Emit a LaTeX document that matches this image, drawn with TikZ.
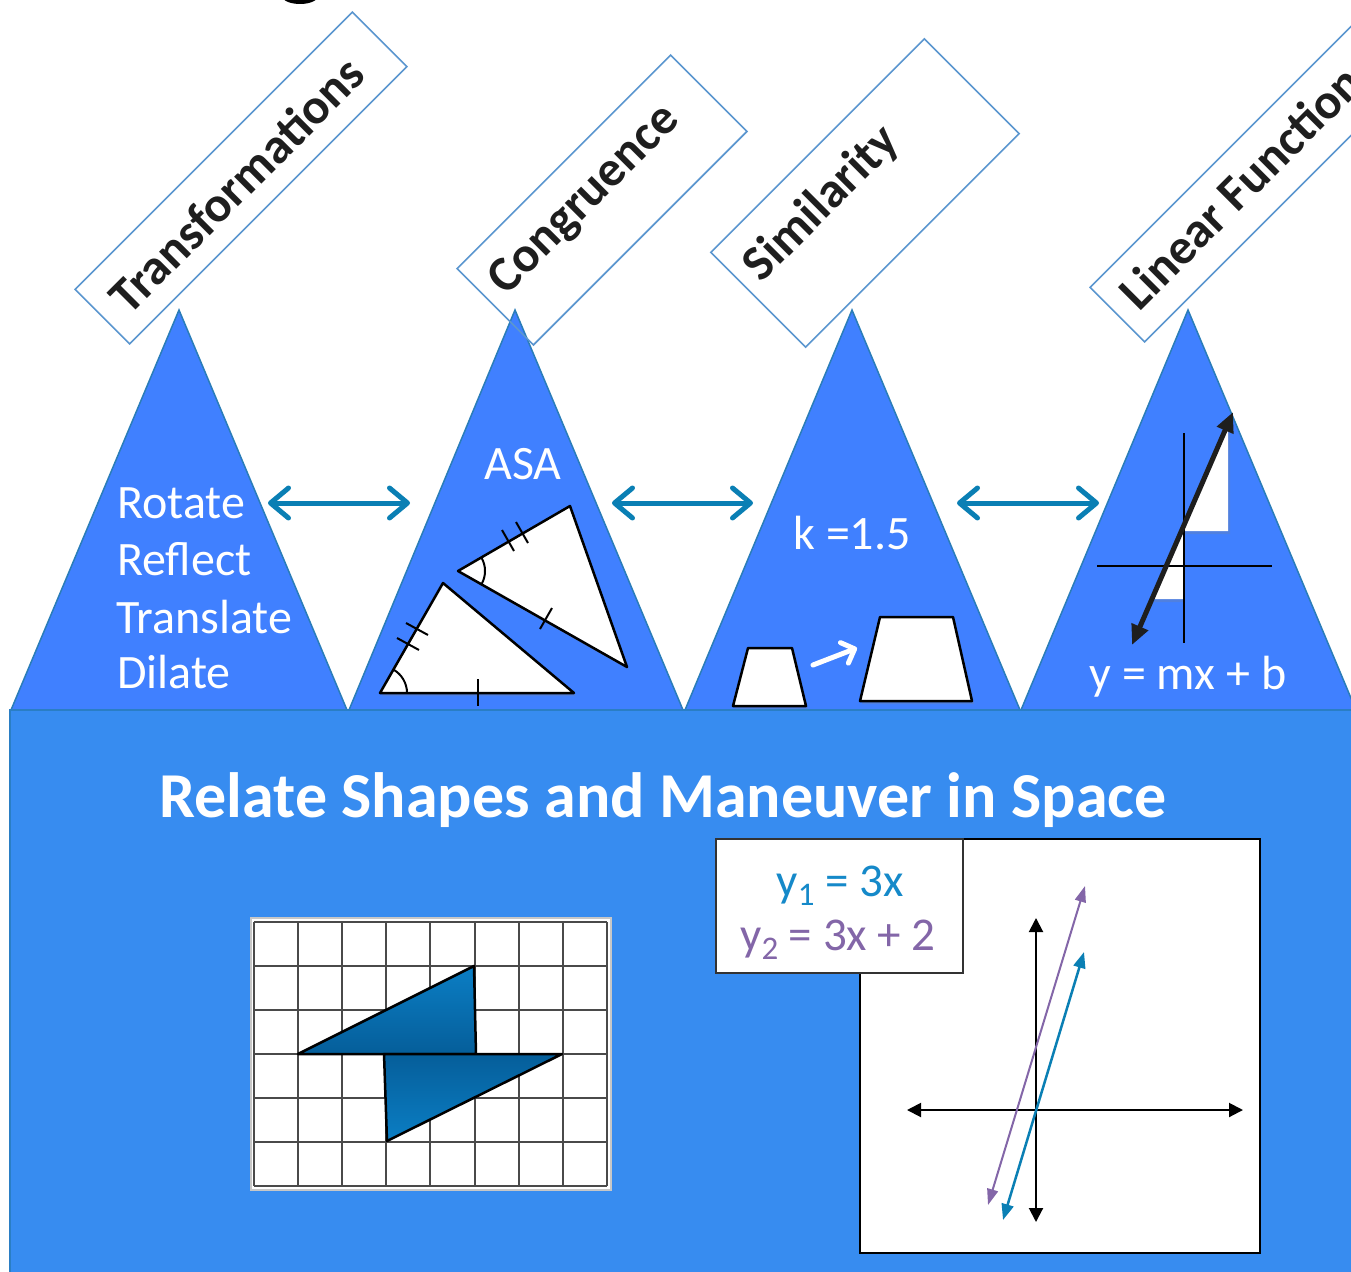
\documentclass[tikz,border=0pt]{standalone}
\usepackage{fontspec}
\setmainfont{Carlito}
\usetikzlibrary{arrows.meta,shadows}
\definecolor{band}{HTML}{378CF0}
\definecolor{bandedge}{HTML}{2A7EC4}
\definecolor{tri}{HTML}{4080FF}
\definecolor{triedge}{HTML}{2A7DB8}
\definecolor{boxedge}{HTML}{5B96CF}
\definecolor{tealarr}{HTML}{0A7FB4}
\definecolor{eqone}{HTML}{1589C9}
\definecolor{eqtwo}{HTML}{8366A8}
\definecolor{labelink}{HTML}{1E1E1E}
\definecolor{gridline}{HTML}{4A4A4A}
\definecolor{gtlight}{HTML}{0B7EC4}
\definecolor{gtdark}{HTML}{055E9A}
\newcommand{\subsc}[1]{\raisebox{-9pt}{\fontsize{33}{33}\selectfont #1}}
\begin{document}
\begin{tikzpicture}[x=1pt,y=-1pt,
  mount/.style={fill=tri,draw=triedge,line width=1.5pt},
  tagbox/.style={draw=boxedge,line width=1.6pt,rotate=45,inner sep=0pt},
  tagtext/.style={rotate=45,anchor=west,inner sep=0pt,text=labelink,font=\fontsize{50}{60}\selectfont\bfseries},
  wtext/.style={text=white,inner sep=0pt,font=\fontsize{48}{58}\selectfont},
  tealarrow/.style={draw=tealarr,line width=5pt,{Straight Barb[length=18pt,width=30pt,round]}-{Straight Barb[length=18pt,width=30pt,round]}},
  wshape/.style={fill=white,draw=black,line width=2.5pt,line join=round,drop shadow={opacity=0.25,shadow xshift=2pt,shadow yshift=-3pt}},
  thin/.style={draw=black,line width=2pt},
  axis/.style={draw=black,line width=2pt,{Triangle[length=14pt,width=14pt]}-{Triangle[length=14pt,width=14pt]}}
]
\useasboundingbox (0,0) rectangle (1351,1271);
\clip (0,0) rectangle (1351,1271);

% cropped glyph at the top
\fill[black] (300,-4) ellipse (18 and 8);

% mountains
\draw[mount] (11,710) coordinate (m1l) -- (179,310) coordinate (m1) -- (347,710) coordinate (m1r) -- cycle;
\draw[mount] (349,710) coordinate (m2l) -- (515,310) coordinate (m2) -- (683,710) coordinate (m2r) -- cycle;
\draw[mount] (685,710) coordinate (m3l) -- (852,310) coordinate (m3) -- (1020,710) coordinate (m3r) -- cycle;
\draw[mount] (1021,710) coordinate (m4l) -- (1188,310) coordinate (m4) -- (1356,710) coordinate (m4r) -- cycle;

% band
\draw[fill=band,draw=bandedge,line width=1.5pt] (10,710) rectangle (1370,1290);

% tag boxes
\node[tagbox,minimum width=392pt,minimum height=77pt] (b1) at (241,178) {};
\node[tagbox,minimum width=302pt,minimum height=108pt] (b2) at (602,200) {};
\node[tagbox,minimum width=302pt,minimum height=134pt] (b3) at (865,193) {};
\node[tagbox,minimum width=392pt,minimum height=77pt] (b4) at (1256,176) {};
\node[tagtext] (t1) at (117,304) {Transformations};
\node[tagtext] (t2) at (498,288) {Congruence};
\node[tagtext] (t3) at (752,274) {Similarity};
\node[tagtext] (t4) at (1127,300) {Linear Functions};

% mountain 1 text
\node[wtext,anchor=base west] (r1) at (117,518) {Rotate};
\node[wtext,anchor=base west] (r2) at (117,575) {Reflect};
\node[wtext,anchor=base west] (r3) at (116,633) {Translate};
\node[wtext,anchor=base west] (r4) at (117,688) {Dilate};

% links between mountains
\coordinate (a1) at (268,503); \coordinate (a2) at (410,503);
\coordinate (a3) at (612,503); \coordinate (a4) at (753,503);
\coordinate (a5) at (957,503); \coordinate (a6) at (1099,503);
\draw[tealarrow] (a1) -- (a2);
\draw[tealarrow] (a3) -- (a4);
\draw[tealarrow] (a5) -- (a6);

% mountain 2: congruence
\node[wtext,anchor=base] (asa) at (523,479) {ASA};
\draw[wshape] (458,571) coordinate (ca) -- (570,506) -- (627,667) -- cycle;
\draw[wshape] (380,693) coordinate (cp) -- (443,583) -- (574,693) -- cycle;
\draw[thin] (502,530) -- (514,551);
\draw[thin] (516,522) -- (528,543);
\draw[thin] (540,629) -- (552,608);
\draw[thin] (ca) ++(-30:27) arc (-30:29.6:27);
\draw[thin] (397,638) -- (419,650);
\draw[thin] (406,623) -- (428,635);
\draw[thin] (478,679) -- (478,706);
\draw[thin] (cp) ++(-60.2:27) arc (-60.2:0:27);

% mountain 3: similarity
\node[wtext,anchor=base] (kk) at (852,549) {k =1.5};
\draw[wshape] (733,706) -- (806,706) -- (792,648) -- (748,648) -- cycle;
\draw[wshape] (860,701) -- (972,701) -- (953,617) -- (880,617) -- cycle;
\coordinate (s1) at (813,665); \coordinate (s2) at (857,648);
\draw[draw=white,line width=5pt,line cap=round,-{Straight Barb[length=11pt,width=22pt,round]}] (s1) -- (s2);

% mountain 4: linear function
\draw[fill=white,draw=none,drop shadow={opacity=0.25,shadow xshift=2pt,shadow yshift=-3pt}] (1182,531) -- (1228,531) -- (1228,424) -- cycle;
\draw[fill=white,draw=none,drop shadow={opacity=0.25,shadow xshift=2pt,shadow yshift=-3pt}] (1152,599) -- (1183,599) -- (1183,527) -- cycle;
\draw[thin] (1184,433) -- (1184,643);
\draw[thin] (1097,566) -- (1272,566);
\coordinate (l1) at (1132,645); \coordinate (l2) at (1233,412);
\draw[draw=labelink,line width=5pt,{Triangle[length=20pt,width=17pt]}-{Triangle[length=20pt,width=17pt]}] (l1) -- (l2);
\node[wtext,anchor=base] (ymx) at (1188,689) {y = mx + b};

% title
\node[text=white,inner sep=0pt,anchor=base,font=\fontsize{64}{70}\selectfont\bfseries] (title) at (663,817) {Relate Shapes and Maneuver in Space};

% grid figure
\draw[fill=white,draw=black!22,line width=2pt] (251,918) rectangle (611,1190);
\foreach \i in {0,...,8} \draw[gridline,line width=2pt] ({254+44.1*\i},922) -- ({254+44.1*\i},1186);
\foreach \j in {0,...,6} \draw[gridline,line width=2pt] (254,{922+44*\j}) -- (607,{922+44*\j});
\shade[top color=gtlight,bottom color=gtdark,draw=black,line width=2.5pt,line join=round] (298,1054) -- (474,966) -- (476,1054) -- cycle;
\shade[top color=gtdark,bottom color=gtlight,draw=black,line width=2.5pt,line join=round] (384,1054) -- (562,1054) -- (387,1141) -- cycle;

% coordinate graph
\draw[fill=white,draw=black,line width=2pt] (860,839) rectangle (1260,1253);
\draw[fill=white,draw=black!80,line width=2pt] (716,839) rectangle (963,973);
\node[inner sep=0pt,anchor=base,text=eqone,font=\fontsize{47}{56}\selectfont] (e1) at (840,896) {y\subsc{1} = 3x};
\node[inner sep=0pt,anchor=base,text=eqtwo,font=\fontsize{47}{56}\selectfont] (e2) at (838,950) {y\subsc{2} = 3x + 2};
\coordinate (gx1) at (907,1110); \coordinate (gx2) at (1243,1110);
\coordinate (gy1) at (1036,918); \coordinate (gy2) at (1036,1222);
\draw[axis] (gx1) -- (gx2);
\draw[axis] (gy1) -- (gy2);
\coordinate (p1) at (988,1205); \coordinate (p2) at (1085,886);
\coordinate (q1) at (1003,1220); \coordinate (q2) at (1084,952);
\draw[draw=eqtwo,line width=2pt,{Triangle[length=16pt,width=11pt]}-{Triangle[length=16pt,width=11pt]}] (p1) -- (p2);
\draw[draw=tealarr,line width=2.5pt,{Triangle[length=16pt,width=12pt]}-{Triangle[length=16pt,width=12pt]}] (q1) -- (q2);
\end{tikzpicture}
\end{document}
